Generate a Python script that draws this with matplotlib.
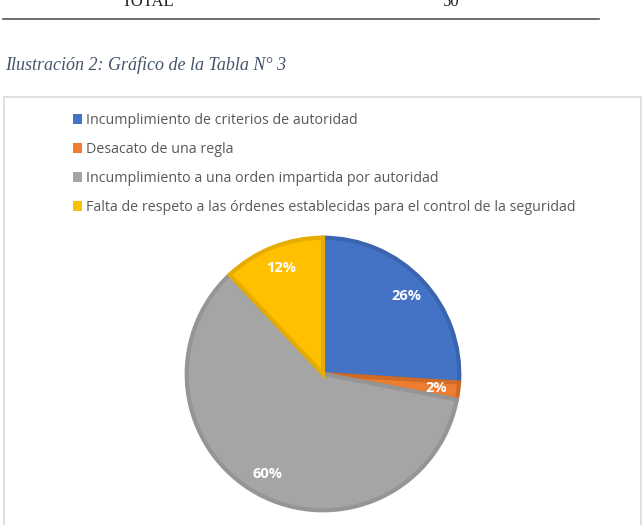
import matplotlib.pyplot as plt
from matplotlib.patches import Rectangle, Patch
from matplotlib.lines import Line2D

categorias = ["Incumplimiento de criterios de autoridad",
              "Desacato de una regla",
              "Incumplimiento a una orden impartida por autoridad",
              "Falta de respeto a las órdenes establecidas para el control de la seguridad"]
frecuencias = [13, 1, 30, 6]
colores = ["#4472C4", "#ED7D31", "#A5A5A5", "#FFC000"]
bordes = ["#3A64B0", "#D06A26", "#959595", "#E6AC00"]

W, H = 644, 525
fig = plt.figure(figsize=(W / 100, H / 100), dpi=100)

def px(x, y):
    return x / W, 1 - y / H

# parte de la tabla que queda arriba (cortada como en el documento)
fig.text(*px(148, 6), "TOTAL", family="Liberation Serif", fontsize=12, ha="center", va="baseline", color="#222222")
fig.text(*px(451, 6), "50", family="Liberation Serif", fontsize=12, ha="center", va="baseline", color="#222222")
fig.add_artist(Line2D([3 / W, 599 / W], [1 - 19 / H] * 2, color="#555555", lw=1.2))

fig.text(*px(5, 70), "Ilustración 2: Gráfico de la Tabla N° 3", family="Liberation Serif",
         style="italic", fontsize=13, color="#44546A", va="baseline")

# marco del grafico
fig.add_artist(Rectangle((4 / W, -0.01), 637 / W, 1 - 97 / H + 0.01, transform=fig.transFigure,
                         fill=False, edgecolor="#D9D9D9", lw=1.2))

cx, cy, r = 323, 374, 139
ax = fig.add_axes([(cx - r) / W, (H - cy - r) / H, 2 * r / W, 2 * r / H])
wedges, textos, pcts = ax.pie(frecuencias, colors=colores, startangle=90, counterclock=False,
                              autopct="%1.0f%%", pctdistance=0.84,
                              wedgeprops=dict(linewidth=3),
                              textprops=dict(color="white", fontweight="bold", fontsize=10.5,
                                             family="Open Sans"))
for w, b in zip(wedges, bordes):
    w.set_edgecolor(b)
ax.set_xlim(-1.02, 1.02)
ax.set_ylim(-1.02, 1.02)
ax.set_aspect("equal")
ax.axis("off")

manijas = [Patch(facecolor=c, edgecolor="none") for c in colores]
fig.legend(manijas, categorias, loc="upper left", bbox_to_anchor=px(73, 113), frameon=False,
           prop=dict(family="Open Sans", size=10.3), labelcolor="#595959",
           handlelength=0.65, handleheight=0.65, handletextpad=0.25, labelspacing=0.98,
           borderpad=0, borderaxespad=0)

fig.savefig("out.png", dpi=100)
